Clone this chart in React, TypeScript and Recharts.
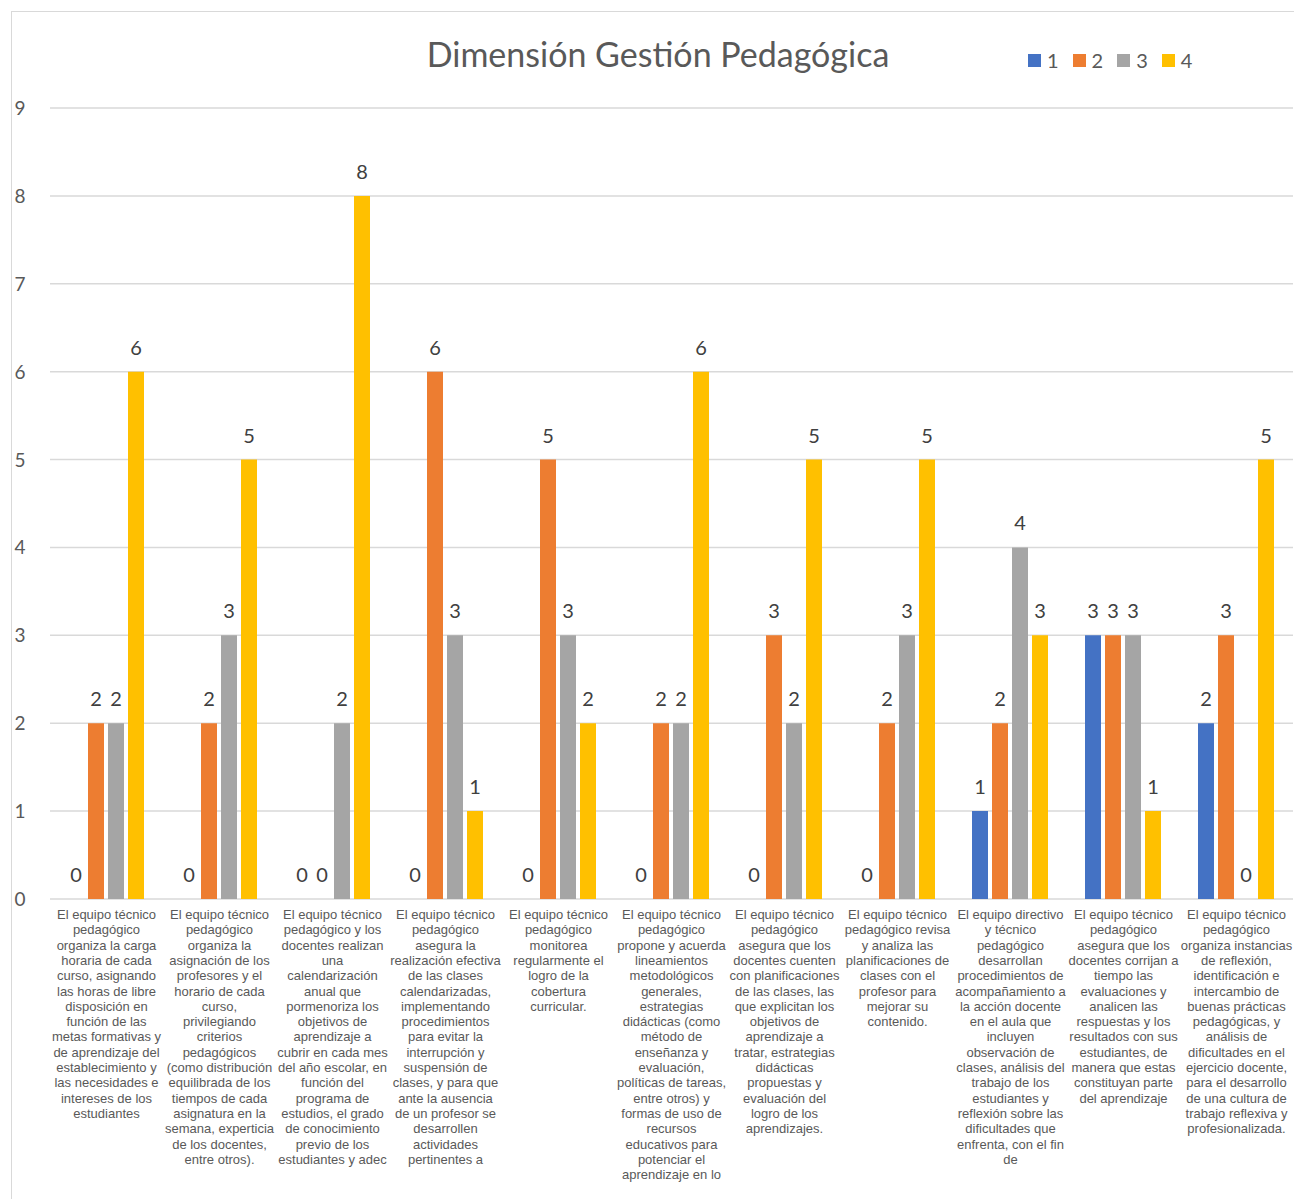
import { BarChart, Bar, XAxis, YAxis, CartesianGrid, LabelList } from "recharts"

const categories = [
    "El equipo técnico\npedagógico\norganiza la carga\nhoraria de cada\ncurso, asignando\nlas horas de libre\ndisposición en\nfunción de las\nmetas formativas y\nde aprendizaje del\nestablecimiento y\nlas necesidades e\nintereses de los\nestudiantes",
    "El equipo técnico\npedagógico\norganiza la\nasignación de los\nprofesores y el\nhorario de cada\ncurso,\nprivilegiando\ncriterios\npedagógicos\n(como distribución\nequilibrada de los\ntiempos de cada\nasignatura en la\nsemana, experticia\nde los docentes,\nentre otros).",
    "El equipo técnico\npedagógico y los\ndocentes realizan\nuna\ncalendarización\nanual que\npormenoriza los\nobjetivos de\naprendizaje a\ncubrir en cada mes\ndel año escolar, en\nfunción del\nprograma de\nestudios, el grado\nde conocimiento\nprevio de los\nestudiantes y adec",
    "El equipo técnico\npedagógico\nasegura la\nrealización efectiva\nde las clases\ncalendarizadas,\nimplementando\nprocedimientos\npara evitar la\ninterrupción y\nsuspensión de\nclases, y para que\nante la ausencia\nde un profesor se\ndesarrollen\nactividades\npertinentes a",
    "El equipo técnico\npedagógico\nmonitorea\nregularmente el\nlogro de la\ncobertura\ncurricular.",
    "El equipo técnico\npedagógico\npropone y acuerda\nlineamientos\nmetodológicos\ngenerales,\nestrategias\ndidácticas (como\nmétodo de\nenseñanza y\nevaluación,\npolíticas de tareas,\nentre otros) y\nformas de uso de\nrecursos\neducativos para\npotenciar el\naprendizaje en lo",
    "El equipo técnico\npedagógico\nasegura que los\ndocentes cuenten\ncon planificaciones\nde las clases, las\nque explicitan los\nobjetivos de\naprendizaje a\ntratar, estrategias\ndidácticas\npropuestas y\nevaluación del\nlogro de los\naprendizajes.",
    "El equipo técnico\npedagógico revisa\ny analiza las\nplanificaciones de\nclases con el\nprofesor para\nmejorar su\ncontenido.",
    "El equipo directivo\ny técnico\npedagógico\ndesarrollan\nprocedimientos de\nacompañamiento a\nla acción docente\nen el aula que\nincluyen\nobservación de\nclases, análisis del\ntrabajo de los\nestudiantes y\nreflexión sobre las\ndificultades que\nenfrenta, con el fin\nde",
    "El equipo técnico\npedagógico\nasegura que los\ndocentes corrijan a\ntiempo las\nevaluaciones y\nanalicen las\nrespuestas y los\nresultados con sus\nestudiantes, de\nmanera que estas\nconstituyan parte\ndel aprendizaje",
    "El equipo técnico\npedagógico\norganiza instancias\nde reflexión,\nidentificación e\nintercambio de\nbuenas prácticas\npedagógicas, y\nanálisis de\ndificultades en el\nejercicio docente,\npara el desarrollo\nde una cultura de\ntrabajo reflexiva y\nprofesionalizada.",
]

const serie1 = [0, 0, 0, 0, 0, 0, 0, 0, 1, 3, 2]
const serie2 = [2, 2, 0, 6, 5, 2, 3, 2, 2, 3, 3]
const serie3 = [2, 3, 2, 3, 3, 2, 2, 3, 4, 3, 0]
const serie4 = [6, 5, 8, 1, 2, 6, 5, 5, 3, 1, 5]

const seriesNames = ["1", "2", "3", "4"]
const COLORS = ["#4472C4", "#ED7D31", "#A5A5A5", "#FFC000"]
const yTicks = [0, 1, 2, 3, 4, 5, 6, 7, 8, 9]

const data = categories.map((c, i) => ({
    name: c,
    s1: serie1[i],
    s2: serie2[i],
    s3: serie3[i],
    s4: serie4[i],
}))

const FONT = "Lato, 'Open Sans', sans-serif"

const CategoryTick = (props: any) => {
    const { x, y, payload } = props
    const lines = String(payload.value).split("\n")
    return (
        <text x={x} y={y + 12} textAnchor="middle" fill="#595959" fontSize={13} fontFamily="'Liberation Sans', Arial, sans-serif">
            {lines.map((l, i) => (
                <tspan key={i} x={x} dy={i === 0 ? 0 : 15.3}>{l}</tspan>
            ))}
        </text>
    )
}

const ValueTick = (props: any) => {
    const { y, payload } = props
    return (
        <text x={20} y={y + 7} textAnchor="middle" fill="#595959" fontSize={19} fontFamily={FONT}>
            {payload.value}
        </text>
    )
}

// draws the value above each bar, also for zero-height bars
const ValueLabel = (props: any) => {
    const { x, y, width, height, value } = props
    const top = Math.min(Number(y), Number(y) + Number(height))
    return (
        <text x={Number(x) + Number(width) / 2} y={top - 17} textAnchor="middle" fill="#404040" fontSize={20} fontFamily={FONT}>
            {value}
        </text>
    )
}

export default function App() {
    return (
        <div style={{ position: "absolute", left: 0, top: 0, width: 1294, height: 1199, background: "#fff", overflow: "hidden" }}>
            <div style={{ position: "absolute", left: 11, top: 11, width: 1300, height: 1200, border: "1px solid #d9d9d9" }} />
            <div style={{ position: "absolute", left: 0, width: 1316, top: 33, textAlign: "center", fontFamily: FONT, fontSize: 34, color: "#595959" }}>
                Dimensión Gestión Pedagógica
            </div>
            <div style={{ position: "absolute", left: 1028, top: 48, display: "flex", fontFamily: FONT, fontSize: 20, color: "#595959" }}>
                {seriesNames.map((n, i) => (
                    <div key={n} style={{ display: "flex", alignItems: "center", marginRight: 14 }}>
                        <span style={{ width: 13, height: 13, background: COLORS[i], marginRight: 6, display: "inline-block" }} />
                        <span>{n}</span>
                    </div>
                ))}
            </div>
            <BarChart
                width={1294}
                height={1199}
                data={data}
                margin={{ top: 108, right: 1, bottom: 0, left: 0 }}
                barCategoryGap={18}
                barGap={4}
            >
                <CartesianGrid vertical={false} stroke="#d9d9d9" strokeWidth={1.5} />
                <XAxis dataKey="name" interval={0} height={300} axisLine={false} tickLine={false} tick={<CategoryTick />} />
                <YAxis domain={[0, 9]} ticks={yTicks} width={50} axisLine={false} tickLine={false} tick={<ValueTick />} />
                {["s1", "s2", "s3", "s4"].map((k, i) => (
                    <Bar key={k} dataKey={k} name={seriesNames[i]} fill={COLORS[i]} minPointSize={0.01} isAnimationActive={false}>
                        <LabelList dataKey={k} content={<ValueLabel />} />
                    </Bar>
                ))}
            </BarChart>
        </div>
    )
}
